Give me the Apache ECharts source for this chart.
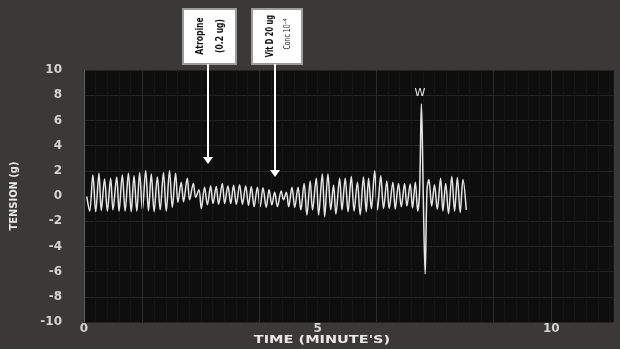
<!DOCTYPE html>
<html><head><meta charset="utf-8">
<script src="https://cdn.jsdelivr.net/npm/echarts/dist/echarts.min.js"></script>
<style>html,body{margin:0;padding:0;background:#3a3937}#c{width:620px;height:349px}</style>
</head><body><div id="c"></div><script>
// time (minutes) of each peak / trough
const timeMin = [0.06,0.12,0.19,0.25,0.32,0.37,0.44,0.50,0.57,0.62,0.70,0.75,0.82,0.88,0.95,1.01,1.07,1.13,1.19,1.25,
1.32,1.38,1.44,1.50,1.57,1.63,1.70,1.76,1.83,1.89,1.96,2.01,2.08,2.13,2.21,2.26,2.34,2.39,2.46,2.51,
2.58,2.64,2.71,2.76,2.83,2.88,2.96,3.01,3.08,3.14,3.20,3.26,3.33,3.39,3.46,3.52,3.58,3.64,3.71,3.77,
3.83,3.90,3.96,4.02,4.08,4.14,4.22,4.27,4.33,4.38,4.45,4.51,4.58,4.64,4.71,4.77,4.84,4.89,4.97,5.02,
5.10,5.15,5.22,5.28,5.34,5.39,5.47,5.52,5.59,5.65,5.72,5.78,5.85,5.91,5.98,6.04,6.09,6.15,6.22,6.28,
6.35,6.41,6.48,6.53,6.61,6.66,6.73,6.79,6.86,6.91,6.98,7.03,7.09,7.14,7.18,7.22,7.26,7.30,7.34,7.38,
7.44,7.50,7.56,7.63,7.68,7.74,7.80,7.87,7.93,7.99,8.05,8.11,8.18];
// tension (g) at those times
const tensionG = [-0.05,-1.2,1.67,-1.25,1.8,-1.15,1.35,-1.2,1.4,-1.1,1.5,-1.2,1.67,-1.2,1.8,-1.25,1.6,-1.2,1.85,-1.1,
2.0,-1.17,1.75,-1.25,1.5,-1.1,1.85,-1.2,2.0,-0.9,1.8,-0.5,1.1,-0.45,1.4,-0.3,1.0,-0.1,0.5,-1.0,
0.7,-0.7,0.8,-0.6,0.75,-0.65,1.0,-0.6,0.8,-0.6,0.85,-0.65,0.9,-0.65,0.8,-0.75,0.75,-0.85,0.7,-0.85,
0.65,-0.9,0.5,-0.7,0.3,-0.85,0.4,-0.3,0.3,-0.85,0.7,-0.9,0.7,-1.1,1.0,-1.5,1.2,-1.1,1.4,-1.5,
1.75,-1.64,1.75,-1.1,0.87,-1.43,1.4,-1.1,1.4,-1.25,1.55,-1.2,1.1,-1.5,1.5,-1.25,1.4,-1.0,2.0,-1.1,
1.6,-1.0,1.2,-1.0,1.1,-1.05,1.0,-0.85,1.0,-0.8,0.95,-0.95,1.1,-1.2,0.3,7.3,0.0,-6.2,0.5,1.3,
-0.8,0.9,-1.05,1.4,-1.2,1.0,-1.4,1.55,-1.2,1.45,-1.3,1.3,-1.1];
const xTickLabels = [0, 5, 10];
const yTickLabels = [-10,-8,-6,-4,-2,0,2,4,6,8,10];
const brightGridTimes = [1.25, 3.75, 6.25, 8.75, 10];

const chart = echarts.init(document.getElementById('c'), null, {renderer: 'canvas'});
const lblFont = "'DejaVu Sans', sans-serif";
const narrow = "'DejaVu Sans Condensed', 'Liberation Sans Narrow', sans-serif";
const boxFont = "bold 10px 'DejaVu Sans Condensed', 'DejaVu Sans', sans-serif";
chart.setOption({
  animation: false,
  backgroundColor: '#3a3937',
  grid: {left: 84, right: 7, top: 70, bottom: 27, show: true, backgroundColor: '#0e0e0e', borderWidth: 0,
    containLabel: false, outerBoundsMode: 'none'},
  xAxis: [{
    type: 'value', min: 0, max: 11.32, interval: 5,
    axisLine: {show: false}, axisTick: {show: false}, splitLine: {show: false},
    axisLabel: {color: '#d4d4d4', fontSize: 12, fontWeight: 'bold', fontFamily: lblFont, margin: 1,
      formatter: v => xTickLabels.includes(v) ? String(v) : ''}
  }, {
    type: 'value', min: 0, max: 11.32, interval: 0.25, position: 'bottom',
    axisLine: {show: false}, axisTick: {show: false}, axisLabel: {show: false},
    splitLine: {show: true, lineStyle: {color: '#161616', width: 1}}
  }],
  yAxis: {
    type: 'value', min: -10, max: 10, interval: 2,
    axisLine: {show: true, lineStyle: {color: '#5c5c5c', width: 1}}, axisTick: {show: false},
    splitLine: {show: true, lineStyle: {color: '#242424', width: 1}},
    axisLabel: {color: '#d4d4d4', fontSize: 12, fontWeight: 'bold', fontFamily: lblFont, margin: 22,
      formatter: v => yTickLabels.includes(v) ? String(v) : ''},
    name: 'TENSION (g)', nameLocation: 'middle', nameGap: 64, nameRotate: 90,
    nameTextStyle: {color: '#e8e8e8', fontSize: 11, fontWeight: 'bold', fontFamily: narrow}
  },
  series: [{
    type: 'line', z: 1, data: [], silent: true,
    markLine: {silent: true, symbol: 'none', label: {show: false},
      lineStyle: {color: '#2b2b2b', width: 1, type: 'solid'},
      data: brightGridTimes.map(v => ({xAxis: v}))}
  }, {
    type: 'line', z: 3, showSymbol: false, smooth: 0.35,
    lineStyle: {color: '#e6e6e6', width: 1.5},
    data: timeMin.map((t, i) => [t, tensionG[i]])
  }],
  graphic: [
    {type: 'text', x: 322, y: 340, scaleX: 1.45, z: 12,
      style: {text: "TIME (MINUTE'S)", fill: '#e8e8e8', font: "bold 10px 'DejaVu Sans', sans-serif", align: 'center', verticalAlign: 'middle'}},
    {type: 'rect', shape: {x: 183, y: 9, width: 53, height: 55}, style: {fill: '#ffffff', stroke: '#9c9c9c', lineWidth: 2}, z: 10},
    {type: 'text', x: 200, y: 36, rotation: Math.PI / 2, scaleX: 0.85, z: 11,
      style: {text: 'Atropine', fill: '#111', font: boxFont, align: 'center', verticalAlign: 'middle'}},
    {type: 'text', x: 220, y: 36, rotation: Math.PI / 2, scaleX: 0.85, z: 11,
      style: {text: '(0.2 ug)', fill: '#111', font: boxFont, align: 'center', verticalAlign: 'middle'}},
    {type: 'rect', shape: {x: 252, y: 9, width: 50, height: 55}, style: {fill: '#ffffff', stroke: '#9c9c9c', lineWidth: 2}, z: 10},
    {type: 'text', x: 270, y: 36, rotation: Math.PI / 2, scaleX: 0.75, z: 11,
      style: {text: 'Vit D 20 ug', fill: '#111', font: boxFont, align: 'center', verticalAlign: 'middle'}},
    {type: 'text', x: 288, y: 34, rotation: Math.PI / 2, scaleX: 0.85, z: 11,
      style: {text: 'Conc 10{s|−4}', fill: '#222', font: "8px 'DejaVu Sans Condensed', sans-serif", align: 'center', verticalAlign: 'middle',
        rich: {s: {fontSize: 6, verticalAlign: 'top', fill: '#222', padding: [0, 0, 5, 0]}}}},
    {type: 'line', shape: {x1: 208, y1: 64, x2: 208, y2: 158}, style: {stroke: '#ffffff', lineWidth: 2}, z: 12},
    {type: 'polygon', shape: {points: [[203, 157], [213, 157], [208, 164]]}, style: {fill: '#ffffff'}, z: 12},
    {type: 'line', shape: {x1: 275, y1: 64, x2: 275, y2: 171}, style: {stroke: '#ffffff', lineWidth: 2}, z: 12},
    {type: 'polygon', shape: {points: [[270, 170], [280, 170], [275, 177]]}, style: {fill: '#ffffff'}, z: 12},
    {type: 'text', x: 420, y: 93, z: 12,
      style: {text: 'W', fill: '#e8e8e8', font: "11px 'DejaVu Sans', sans-serif", align: 'center', verticalAlign: 'middle'}}
  ]
});
</script></body></html>
